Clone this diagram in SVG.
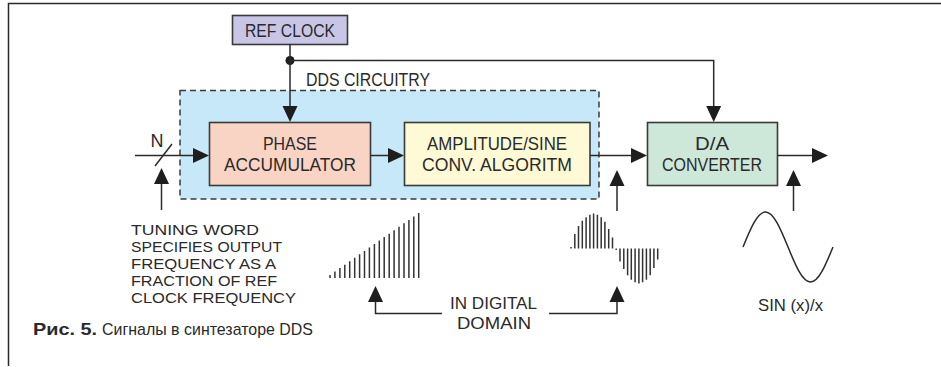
<svg xmlns="http://www.w3.org/2000/svg" width="941" height="367" viewBox="0 0 941 367">
<defs>
<style>
.box{stroke:#3a3a3a;stroke-width:1.6}
.ln{fill:none;stroke:#2a2a2a;stroke-width:1.5}
.ah{fill:#1e1e1e;stroke:none}
.t{font-family:"Liberation Sans",Arial,sans-serif;font-size:18px;fill:#2a2a2a}
.c{font-family:"Liberation Sans",Arial,sans-serif;font-size:17px;fill:#2a2a2a}
.tw{font-family:"Liberation Sans",Arial,sans-serif;font-size:15px;fill:#2a2a2a}
.bars{fill:none;stroke:#333;stroke-width:1.5}
</style>
</defs>
<rect width="941" height="367" fill="#ffffff"/>
<path d="M941 3.5 H8.5 V366" fill="none" stroke="#2a2a2a" stroke-width="1.5"/>

<g id="dds-circuitry">
<rect x="180" y="90.5" width="419" height="108.5" fill="#c6e8f8" stroke="#3a3a3a" stroke-width="1.5" stroke-dasharray="6,4"/>
<text class="t" x="306" y="86" textLength="124" lengthAdjust="spacingAndGlyphs">DDS CIRCUITRY</text>
</g>

<g id="ref-clock">
<rect class="box" x="232.5" y="15.5" width="115" height="29" fill="#c8c5e6"/>
<text class="t" x="290" y="37" text-anchor="middle" textLength="90" lengthAdjust="spacingAndGlyphs">REF CLOCK</text>
</g>

<g id="phase-accumulator">
<rect class="box" x="209.5" y="122.5" width="161" height="63" fill="#f9d4c4"/>
<text class="t" x="290" y="150" text-anchor="middle" textLength="54" lengthAdjust="spacingAndGlyphs">PHASE</text>
<text class="t" x="290" y="171" text-anchor="middle" textLength="132" lengthAdjust="spacingAndGlyphs">ACCUMULATOR</text>
</g>

<g id="amplitude-sine">
<rect class="box" x="404.5" y="122.5" width="185.5" height="63" fill="#fefad6"/>
<text class="t" x="497" y="150" text-anchor="middle" textLength="140" lengthAdjust="spacingAndGlyphs">AMPLITUDE/SINE</text>
<text class="t" x="497" y="171" text-anchor="middle" textLength="150" lengthAdjust="spacingAndGlyphs">CONV. ALGORITM</text>
</g>

<g id="da-converter">
<rect class="box" x="647.5" y="122.5" width="130" height="63" fill="#cde7d8"/>
<text class="t" x="712" y="150" text-anchor="middle" textLength="34" lengthAdjust="spacingAndGlyphs">D/A</text>
<text class="t" x="712" y="171" text-anchor="middle" textLength="100" lengthAdjust="spacingAndGlyphs">CONVERTER</text>
</g>

<g id="connectors">
<circle cx="290" cy="60.5" r="4.5" fill="#1e1e1e"/>
<path class="ln" d="M290 44 V108"/>
<polygon class="ah" points="290,122 282.5,106 297.5,106"/>
<path class="ln" d="M290 60.5 H713.7 V108"/>
<polygon class="ah" points="713.7,122 706.2,106 721.2,106"/>
<path class="ln" d="M135 155.5 H195"/>
<polygon class="ah" points="209,155.5 193,148 193,163"/>
<path class="ln" d="M155 166 L172 144"/>
<path class="ln" d="M370.5 155.5 H390"/>
<polygon class="ah" points="404,155.5 388,148 388,163"/>
<path class="ln" d="M590 155.5 H633"/>
<polygon class="ah" points="647,155.5 631,148 631,163"/>
<path class="ln" d="M777.5 155.5 H814"/>
<polygon class="ah" points="828,155.5 812,148 812,163"/>
<path class="ln" d="M161.5 210 V182"/>
<polygon class="ah" points="161.5,168 154,184 169,184"/>
<path class="ln" d="M617 211 V184"/>
<polygon class="ah" points="617,170 609.5,186 624.5,186"/>
<path class="ln" d="M793.5 211 V184"/>
<polygon class="ah" points="793.5,170 786,186 801,186"/>
<path class="ln" d="M442 313.5 H375.5 V300"/>
<polygon class="ah" points="375.5,286 368,302 383,302"/>
<path class="ln" d="M549 313.5 H617 V300"/>
<polygon class="ah" points="617,286 609.5,302 624.5,302"/>
</g>

<g id="labels">
<text class="t" x="157" y="147" text-anchor="middle" textLength="13" lengthAdjust="spacingAndGlyphs">N</text>
<text class="tw" x="131" y="235" textLength="128" lengthAdjust="spacingAndGlyphs">TUNING WORD</text>
<text class="tw" x="131" y="252" textLength="151" lengthAdjust="spacingAndGlyphs">SPECIFIES OUTPUT</text>
<text class="tw" x="131" y="269" textLength="145" lengthAdjust="spacingAndGlyphs">FREQUENCY AS A</text>
<text class="tw" x="131" y="286" textLength="146" lengthAdjust="spacingAndGlyphs">FRACTION OF REF</text>
<text class="tw" x="131" y="303" textLength="165" lengthAdjust="spacingAndGlyphs">CLOCK FREQUENCY</text>
<text class="c" x="450" y="309" textLength="87" lengthAdjust="spacingAndGlyphs">IN DIGITAL</text>
<text class="c" x="457" y="329" textLength="74" lengthAdjust="spacingAndGlyphs">DOMAIN</text>
<text class="c" x="758" y="311" textLength="65" lengthAdjust="spacingAndGlyphs">SIN (x)/x</text>
<text class="c" x="33" y="335" font-weight="bold" textLength="64" lengthAdjust="spacingAndGlyphs">Рис. 5.</text>
<text class="c" x="102" y="335" textLength="211" lengthAdjust="spacingAndGlyphs">Сигналы в синтезаторе DDS</text>
</g>

<g id="waveforms">
<path class="bars" d="M330 278V275 M334.9 278V271.6 M339.9 278V268.1 M344.8 278V264.7 M349.7 278V261.2 M354.7 278V257.8 M359.6 278V254.3 M364.5 278V250.9 M369.4 278V247.4 M374.4 278V244 M379.3 278V240.6 M384.2 278V237.1 M389.2 278V233.7 M394.1 278V230.2 M399 278V226.8 M404 278V223.3 M408.9 278V219.9 M413.8 278V216.4 M418.7 278V213"/>
<path class="bars" d="M571 248.5V247 M574.8 248.5V234 M578.5 248.5V226 M582.3 248.5V220.8 M586.1 248.5V217.2 M589.9 248.5V214.7 M593.6 248.5V213.5 M597.4 248.5V214.7 M601.2 248.5V217.2 M604.9 248.5V221.8 M608.7 248.5V229 M612.5 248.5V237.4 M616.2 248.5V250 M620 248.5V261.6 M623.8 248.5V269 M627.6 248.5V275.2 M631.3 248.5V279.8 M635.1 248.5V282.3 M638.9 248.5V283.5 M642.6 248.5V282.3 M646.4 248.5V279.8 M650.2 248.5V275.2 M653.9 248.5V268 M657.7 248.5V259.6"/>
<path class="ln" d="M743 247 C750.52 228.6 757.38 212 765.5 212 C773.62 212 780.48 228.6 788 247 C795.52 265.4 802.38 282 810.5 282 C818.62 282 825.48 265.4 833 247"/>
</g>
</svg>
